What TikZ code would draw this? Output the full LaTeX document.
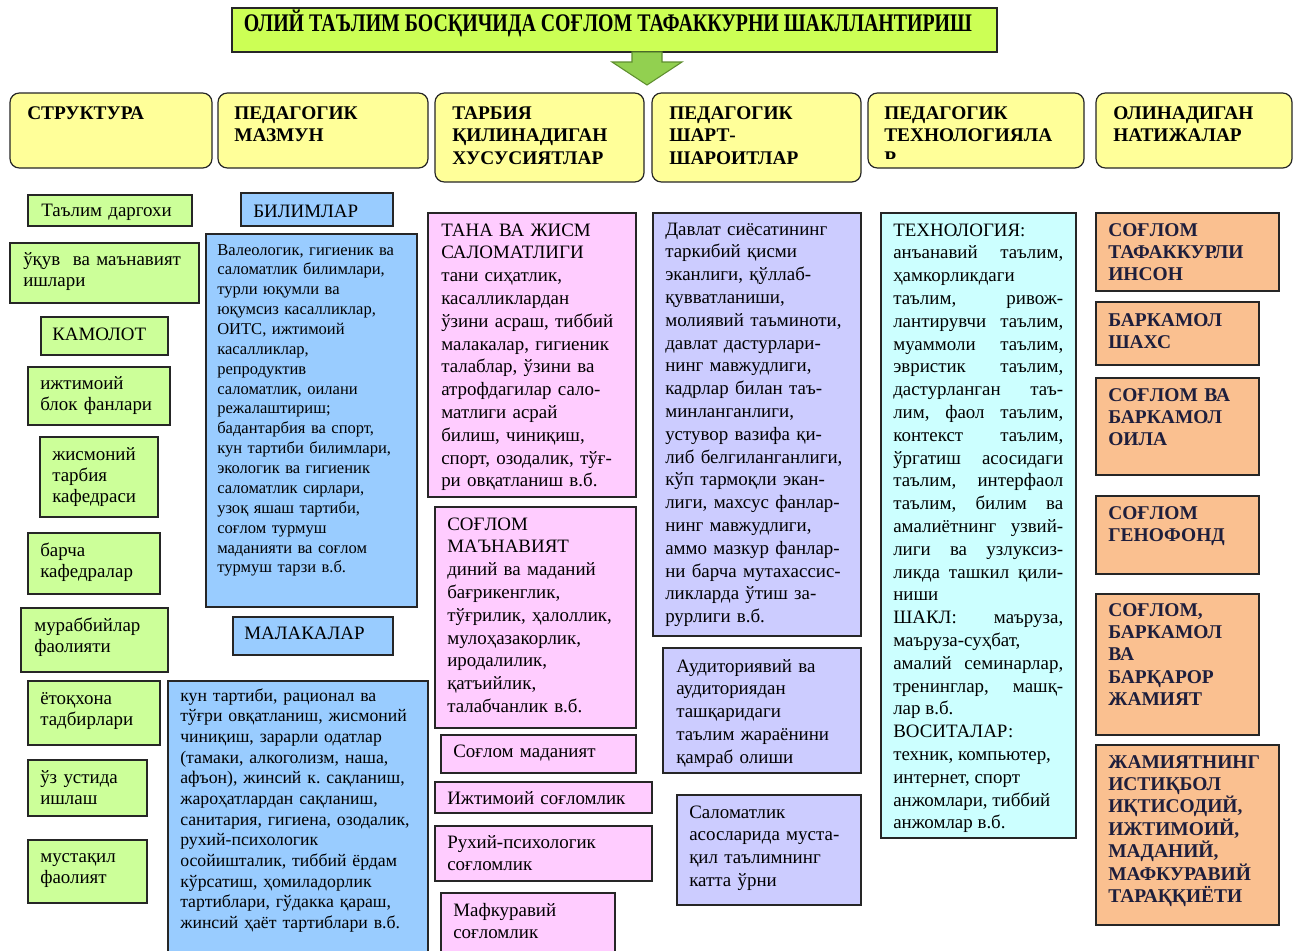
\documentclass[tikz,border=0pt]{standalone}
\usepackage{fontspec}
\setmainfont{Liberation Serif}
\usepackage{graphicx}
\usetikzlibrary{positioning}
\frenchspacing
\definecolor{titlegrn}{HTML}{CCFF55}
\definecolor{arrowgrn}{HTML}{92D050}
\definecolor{arrowdk}{HTML}{5F8F2F}
\definecolor{hdyel}{HTML}{FFFF99}
\definecolor{grn}{HTML}{CCFF99}
\definecolor{blu}{HTML}{99CCFF}
\definecolor{pnk}{HTML}{FFCCFF}
\definecolor{lav}{HTML}{CCCCFF}
\definecolor{cyn}{HTML}{CCFFFF}
\definecolor{org}{HTML}{FAC090}
\definecolor{orgtxt}{HTML}{1E1E3C}

\begin{document}
\begin{tikzpicture}[x=0.75pt,y=-0.75pt,
    bx/.style={draw=black!85,line width=0.9pt},
    hdr/.style={bx,fill=hdyel,rounded corners=7pt},
    grbox/.style={bx,fill=grn},
    blbox/.style={bx,fill=blu},
    pkbox/.style={bx,fill=pnk},
    lvbox/.style={bx,fill=lav},
    cybox/.style={bx,fill=cyn},
    orbox/.style={bx,fill=org},
    txt/.style={anchor=base west,inner sep=0pt,align=left,text width=#1},
    txt/.default=150pt,
    hfont/.style={font=\bfseries\fontsize{14.5}{17.2}\selectfont},
    lfont/.style={font=\fontsize{14.2}{16}\selectfont},
    sfont/.style={font=\fontsize{12.4}{14.9}\selectfont},
    mfont/.style={font=\fontsize{13.3}{15.5}\selectfont},
    bfont/.style={font=\fontsize{14.2}{17.1}\selectfont},
    ofont/.style={font=\bfseries\fontsize{14.6}{16.8}\selectfont,text=orgtxt}]
        \useasboundingbox (0,0) rectangle (1298,950);
        \fill[white] (0,0) rectangle (1298,950);

        % title and arrow
        \draw[bx,fill=titlegrn] (232,8) rectangle (997,52);
        \node[anchor=base,inner sep=0pt,font=\bfseries\fontsize{19}{19}\selectfont] (title) at (608,31)
          {\resizebox{546pt}{\height}{ОЛИЙ ТАЪЛИМ БОСҚИЧИДА СОҒЛОМ ТАФАККУРНИ ШАКЛЛАНТИРИШ}};
        \draw[draw=arrowdk,fill=arrowgrn,line width=0.8pt] (632,52) -- (662,52) -- (662,62) -- (682,62)
          -- (647,85) -- (612,62) -- (632,62) -- cycle;

        % column heads
        \draw[hdr] (10,93) rectangle (212,168);
        \draw[hdr] (218,93) rectangle (428,168);
        \draw[hdr] (435,93) rectangle (644,182);
        \draw[hdr] (652,93) rectangle (861,182);
        \draw[hdr] (868,93) rectangle (1084,168);
        \draw[hdr] (1096,93) rectangle (1292,168);
        \node[txt,hfont] (hstr) at (27,119) {СТРУКТУРА};
        \node[txt,hfont] (hmaz) at (234,119) {ПЕДАГОГИК\\МАЗМУН};
        \node[txt,hfont] (htar) at (452,119) {ТАРБИЯ\\ҚИЛИНАДИГАН\\ХУСУСИЯТЛАР};
        \node[txt,hfont] (hsha) at (669,119) {ПЕДАГОГИК\\ШАРТ-\\ШАРОИТЛАР};
        \begin{scope}
          \clip (868,93) rectangle (1084,158);
          \node[txt,hfont] (htex) at (884,119) {ПЕДАГОГИК\\ТЕХНОЛОГИЯЛА\\Р};
        \end{scope}
        \node[txt,hfont] (hnat) at (1113,119) {ОЛИНАДИГАН\\НАТИЖАЛАР};

        % structure
        \draw[grbox] (28,195) rectangle (192,226);
        \draw[grbox] (10,243) rectangle (199,303);
        \draw[grbox] (41,317) rectangle (168,355);
        \draw[grbox] (28,367) rectangle (170,425);
        \draw[grbox] (40,437) rectangle (158,517);
        \draw[grbox] (28,533) rectangle (160,594);
        \draw[grbox] (21,608) rectangle (168,672);
        \draw[grbox] (28,681) rectangle (160,745);
        \draw[grbox] (28,760) rectangle (147,816);
        \draw[grbox] (28,840) rectangle (147,903);
        \node[txt,lfont] (dargoh) at (41,216) {Таълим даргохи};
        \node[txt,lfont] (ukuv) at (23,265) {ўқув\ \ ва маънавият\\ишлари};
        \node[txt,lfont] (kamol) at (52,340) {КАМОЛОТ};
        \node[txt,lfont] (ijtim) at (40,389) {ижтимоий\\блок фанлари};
        \node[txt,lfont] (jismon) at (52,460) {жисмоний\\тарбия\\кафедраси};
        \node[txt,lfont] (barcha) at (40,556) {барча\\кафедралар};
        \node[txt,lfont] (murab) at (34,631) {мураббийлар\\фаолияти};
        \node[txt,lfont] (yotoq) at (40,704) {ётоқхона\\тадбирлари};
        \node[txt,lfont] (uzust) at (40,783) {ўз устида\\ишлаш};
        \node[txt,lfont] (mustaq) at (40,862) {мустақил\\фаолият};

        % content
        \draw[blbox] (241,193) rectangle (393,226);
        \draw[blbox] (206,234) rectangle (417,607);
        \draw[blbox] (233,617) rectangle (393,655);
        \draw[blbox] (168,681) rectangle (428,955);
        \node[txt,lfont] (bilim) at (253,217) {БИЛИМЛАР};
        \node[txt=200pt,sfont] (bilimt) at (217,255) {Валеологик, гигиеник ва\\саломатлик билимлари,\\турли юқумли ва\\юқумсиз касалликлар,\\ОИТС, ижтимоий\\касалликлар,\\репродуктив\\саломатлик, оилани\\режалаштириш;\\бадантарбия ва спорт,\\кун тартиби билимлари,\\экологик ва гигиеник\\саломатлик сирлари,\\узоқ яшаш тартиби,\\соғлом турмуш\\маданияти ва соғлом\\турмуш тарзи в.б.};
        \node[txt,lfont] (malaka) at (244,639) {МАЛАКАЛАР};
        \node[txt=200pt,mfont] (malakat) at (180,701) {кун тартиби, рационал ва\\тўғри овқатланиш, жисмоний\\чиниқиш, зарарли одатлар\\(тамаки, алкоголизм, наша,\\афъон), жинсий к. сақланиш,\\жароҳатлардан сақланиш,\\санитария, гигиена, озодалик,\\рухий-психологик\\осойишталик, тиббий ёрдам\\кўрсатиш, ҳомиладорлик\\тартиблари, гўдакка қараш,\\жинсий ҳаёт тартиблари в.б.};

        % features
        \draw[pkbox] (428,213) rectangle (636,497);
        \draw[pkbox] (435,507) rectangle (636,728);
        \draw[pkbox] (441,735) rectangle (636,773);
        \draw[pkbox] (435,782) rectangle (652,813);
        \draw[pkbox] (435,826) rectangle (652,881);
        \draw[pkbox] (441,893) rectangle (615,955);
        \node[txt=180pt,bfont] (tana) at (441,236) {ТАНА ВА ЖИСМ\\САЛОМАТЛИГИ\\тани сиҳатлик,\\касалликлардан\\ўзини асраш, тиббий\\малакалар, гигиеник\\талаблар, ўзини ва\\атрофдагилар сало-\\матлиги асрай\\билиш, чиниқиш,\\спорт, озодалик, тўғ-\\ри овқатланиш в.б.};
        \node[txt=180pt,bfont] (manav) at (447,530) {СОҒЛОМ\\МАЪНАВИЯТ\\диний ва маданий\\бағрикенглик,\\тўғрилик, ҳалоллик,\\мулоҳазакорлик,\\иродалилик,\\қатъийлик,\\талабчанлик в.б.};
        \node[txt,bfont] (madan) at (453,757) {Соғлом маданият};
        \node[txt,bfont] (ijsog) at (447,804) {Ижтимоий соғломлик};
        \node[txt,bfont] (ruhiy) at (447,848) {Рухий-психологик\\соғломлик};
        \node[txt,bfont] (mafk) at (453,916) {Мафкуравий\\соғломлик};

        % conditions
        \draw[lvbox] (653,213) rectangle (861,636);
        \draw[lvbox] (663,648) rectangle (861,773);
        \draw[lvbox] (677,795) rectangle (861,905);
        \node[txt=180pt,bfont] (davlat) at (665,235) {Давлат сиёсатининг\\таркибий қисми\\эканлиги, қўллаб-\\қувватланиши,\\молиявий таъминоти,\\давлат дастурлари-\\нинг мавжудлиги,\\кадрлар билан таъ-\\минланганлиги,\\устувор вазифа қи-\\либ белгиланганлиги,\\кўп тармоқли экан-\\лиги, махсус фанлар-\\нинг мавжудлиги,\\аммо мазкур фанлар-\\ни барча мутахассис-\\ликларда ўтиш за-\\рурлиги в.б.};
        \node[txt,bfont] (audit) at (676,672) {Аудиториявий ва\\аудиториядан\\ташқаридаги\\таълим жараёнини\\қамраб олиши};
        \node[txt,bfont] (salom) at (689,818) {Саломатлик\\асосларида муста-\\қил таълимнинг\\катта ўрни};

        % technologies
        \draw[cybox] (881,213) rectangle (1076,838);
        \node[txt=127.5pt,bfont,align=justify] (texn) at (893,236) {ТЕХНОЛОГИЯ:\\анъанавий таълим,\linebreak ҳамкорликдаги\\таълим, ривож-\linebreak лантирувчи таълим,\linebreak муаммоли таълим,\linebreak эвристик таълим,\linebreak дастурланган таъ-\linebreak лим, фаол таълим,\linebreak контекст таълим,\linebreak ўргатиш асосидаги\linebreak таълим, интерфаол\linebreak таълим, билим ва\linebreak амалиётнинг узвий-\linebreak лиги ва узлуксиз-\linebreak ликда ташкил қили-\linebreak ниши\\ШАКЛ: маъруза,\linebreak маъруза-суҳбат,\\амалий семинарлар,\linebreak тренинглар, машқ-\linebreak лар в.б.\\ВОСИТАЛАР:\\техник, компьютер,\\интернет, спорт\\анжомлари, тиббий\\анжомлар в.б.};

        % results
        \draw[orbox] (1096,213) rectangle (1279,291);
        \draw[orbox] (1096,302) rectangle (1259,365);
        \draw[orbox] (1096,378) rectangle (1259,475);
        \draw[orbox] (1096,496) rectangle (1259,574);
        \draw[orbox] (1096,594) rectangle (1259,735);
        \draw[orbox] (1096,745) rectangle (1279,925);
        \node[txt,ofont] (inson) at (1108,236) {СОҒЛОМ\\ТАФАККУРЛИ\\ИНСОН};
        \node[txt,ofont] (shaxs) at (1108,326) {БАРКАМОЛ\\ШАХС};
        \node[txt,ofont] (oila) at (1108,401) {СОҒЛОМ ВА\\БАРКАМОЛ\\ОИЛА};
        \node[txt,ofont] (genof) at (1108,519) {СОҒЛОМ\\ГЕНОФОНД};
        \node[txt,ofont] (jamiyat) at (1108,616) {СОҒЛОМ,\\БАРКАМОЛ\\ВА\\БАРҚАРОР\\ЖАМИЯТ};
        \node[txt,ofont] (taraq) at (1108,768) {ЖАМИЯТНИНГ\\ИСТИҚБОЛ\\ИҚТИСОДИЙ,\\ИЖТИМОИЙ,\\МАДАНИЙ,\\МАФКУРАВИЙ\\ТАРАҚҚИЁТИ};
\end{tikzpicture}
\end{document}
